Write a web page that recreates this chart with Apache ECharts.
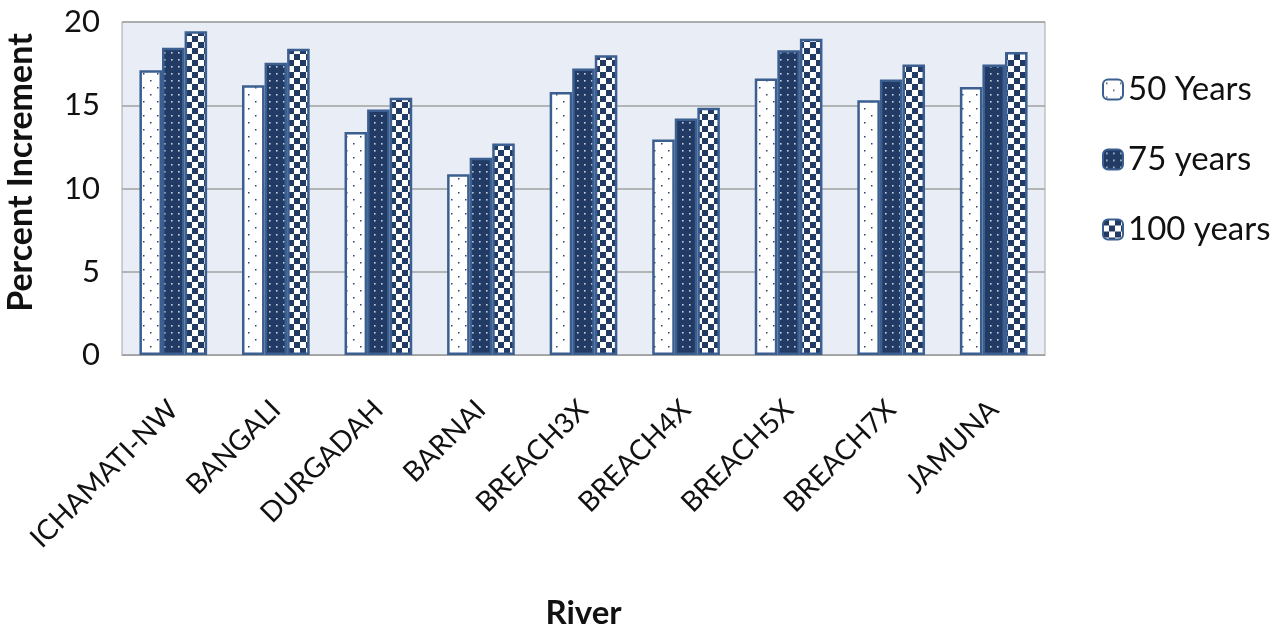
<!DOCTYPE html>
<html><head><meta charset="utf-8">
<script src="https://cdn.jsdelivr.net/npm/echarts@6/dist/echarts.min.js"></script>
<style>html,body{margin:0;padding:0;background:#fff}#c{width:1285px;height:627px}</style>
</head><body><div id="c"></div>
<script>
const categories = ['ICHAMATI-NW','BANGALI','DURGADAH','BARNAI','BREACH3X','BREACH4X','BREACH5X','BREACH7X','JAMUNA'];
const seriesNames = ['50 Years','75 years','100 years'];
const years50 = [17.1, 16.2, 13.4, 10.85, 15.8, 12.95, 16.6, 15.3, 16.1];
const years75 = [18.45, 17.55, 14.75, 11.85, 17.2, 14.2, 18.3, 16.55, 17.45];
const years100 = [19.45, 18.4, 15.45, 12.7, 18.0, 14.85, 19.0, 17.45, 18.2];
const yTicks = [0, 5, 10, 15, 20];

const NAVY = '#213b64', BORDER = '#3b5f90';
function makePattern(kind){
  const c = document.createElement('canvas');
  const ctx = c.getContext('2d');
  if (kind === 0) {
    c.width = 14; c.height = 14;
    ctx.fillStyle = '#ffffff'; ctx.fillRect(0,0,14,14);
    ctx.fillStyle = '#2a4470';
    ctx.fillRect(3,3,1.5,1.5); ctx.fillRect(10,10,1.5,1.5);
  } else if (kind === 1) {
    c.width = 7; c.height = 7;
    ctx.fillStyle = NAVY; ctx.fillRect(0,0,7,7);
    ctx.fillStyle = '#c9d2e2';
    ctx.fillRect(3,3,1.6,1.6);
  } else {
    c.width = 12; c.height = 12;
    ctx.fillStyle = '#ffffff'; ctx.fillRect(0,0,12,12);
    ctx.fillStyle = NAVY;
    ctx.fillRect(0,0,6,6); ctx.fillRect(6,6,6,6);
  }
  return {image: c, repeat: 'repeat'};
}
const data = [years50, years75, years100];
const FONT = 'Lato';
const chart = echarts.init(document.getElementById('c'), null, {renderer: 'canvas'});
chart.setOption({
  animation: false,
  textStyle: {fontFamily: FONT},
  grid: {left: 122, right: 240, top: 22, bottom: 272, show: true, outerBoundsMode: 'none', containLabel: false,
         backgroundColor: '#e9edf5', borderColor: '#a6a6a6', borderWidth: 1},
  legend: {
    orient: 'vertical', left: 1097, top: 68, itemWidth: 20, itemHeight: 20, itemGap: 37,
    textStyle: {fontSize: 33, color: '#111', fontFamily: FONT, lineHeight: 33},
    data: seriesNames
  },
  xAxis: {
    type: 'category', data: categories,
    name: 'River', nameLocation: 'middle', nameGap: 242,
    nameTextStyle: {fontSize: 33, fontWeight: 'bold', color: '#111', fontFamily: FONT},
    axisTick: {show: false},
    axisLine: {lineStyle: {color: '#a0a0a0'}},
    axisLabel: {rotate: 45, fontSize: 28, color: '#111', margin: 50, interval: 0}
  },
  yAxis: {
    type: 'value', min: yTicks[0], max: yTicks[yTicks.length-1], interval: 5,
    name: 'Percent Increment', nameLocation: 'middle', nameGap: 84, nameRotate: 90,
    nameTextStyle: {fontSize: 34, fontWeight: 'bold', color: '#111', fontFamily: FONT, padding: [0, 0, 0, 32]},
    axisLine: {show: false}, axisTick: {show: false},
    axisLabel: {fontSize: 31, color: '#111', margin: 22},
    splitLine: {lineStyle: {color: '#a0a0a0', width: 1.5}}
  },
  series: seriesNames.map((n, i) => ({
    name: n, type: 'bar', data: data[i],
    barGap: '0%', barCategoryGap: '34%',
    itemStyle: {color: makePattern(i), borderColor: BORDER, borderWidth: 2.5}
  }))
});
</script></body></html>
